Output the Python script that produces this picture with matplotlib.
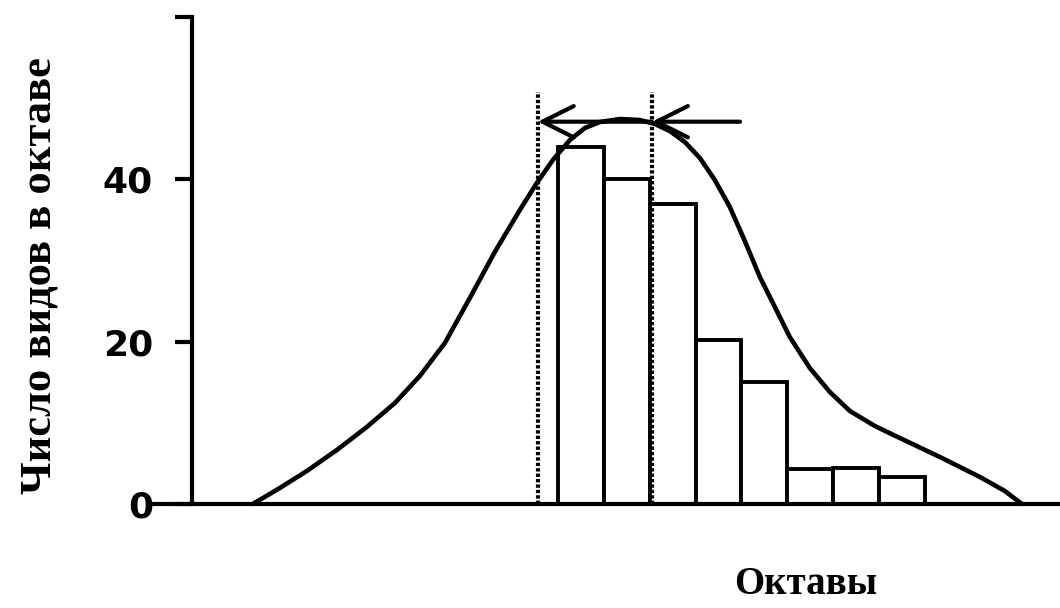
import matplotlib
matplotlib.use("Agg")
import matplotlib.pyplot as plt

# ---- data ----
octaves = [1, 2, 3, 4, 5, 6, 7, 8]
species_counts = [44, 40, 37, 20.2, 15, 4.3, 4.4, 3.3]

curve_x = [-6.145, -5.557, -4.968, -4.315, -3.661, -3.051, -2.507, -1.962,
           -1.417, -0.873, -0.328, 0.042, 0.391, 0.761, 1.088, 1.415, 1.851,
           2.286, 2.613, 2.940, 3.267, 3.594, 3.920, 4.247, 4.574, 4.901,
           5.228, 5.554, 5.990, 6.426, 6.862, 7.406, 7.951, 8.823, 9.694,
           10.239, 10.609]
curve_y = [0, 1.97, 4.07, 6.65, 9.49, 12.44, 15.77, 19.83,
           25.38, 31.05, 36.22, 39.55, 42.38, 44.84, 46.32, 47.06, 47.43,
           47.31, 46.82, 45.95, 44.60, 42.63, 39.92, 36.59, 32.40, 27.97,
           24.27, 20.57, 16.75, 13.80, 11.46, 9.61, 8.13, 5.79, 3.33,
           1.60, 0]

marker_x = [0.064, 2.55]          # dotted vertical lines
marker_top = 50.8
arrow_y = 47.1
arrow_tails = [2.55, 4.47]

yticks = [0, 20, 40, 60]
ytick_labels = ["0", "20", "40", ""]
xlabel = "Октавы"
ylabel = "Число видов в октаве"

# ---- figure ----
fig = plt.figure(figsize=(10.6, 6.08), dpi=100)
ax = fig.add_axes([192 / 1060, (608 - 504) / 608, (1060 - 192) / 1060, (504 - 17) / 608])
ax.set_xlim(-7.47, 11.44)
ax.set_ylim(0, 60)

ax.bar(octaves, species_counts, width=1.0, facecolor="white", edgecolor="black",
       linewidth=2.8, zorder=2)
ax.plot(curve_x, curve_y, color="black", linewidth=3.3, solid_capstyle="round",
        solid_joinstyle="round", zorder=3, clip_on=False)

for mx in marker_x:
    ax.plot([mx, mx], [0, marker_top], color="black", linewidth=3.0,
            linestyle=(0, (0.8, 0.5)), zorder=4)

for tip, tail in zip(marker_x, arrow_tails):
    ax.annotate("", xy=(tip, arrow_y), xytext=(tail, arrow_y),
                arrowprops=dict(arrowstyle="->,head_length=0.9,head_width=0.45",
                                lw=3.0, color="black", mutation_scale=25,
                                shrinkA=0, shrinkB=0),
                zorder=5)

for s in ["top", "right"]:
    ax.spines[s].set_visible(False)
ax.spines["left"].set_linewidth(3.0)
ax.spines["bottom"].set_linewidth(3.0)
ax.spines["bottom"].set_bounds(-8.3, 11.44)
ax.spines["bottom"].set_zorder(6)
ax.set_xticks([])
ax.set_yticks(yticks)
ax.set_yticklabels(ytick_labels)
ax.tick_params(axis="y", direction="out", length=12, width=3.0, pad=16,
               labelsize=26)
for lab in ax.get_yticklabels():
    lab.set_fontfamily("DejaVu Sans")
    lab.set_fontweight("bold")

fig.text(40 / 1060, 1 - 276 / 608, ylabel, rotation=90, ha="center", va="center",
         fontsize=32, fontweight="bold", family="Liberation Serif")
fig.text(806 / 1060, 1 - 585 / 608, xlabel, ha="center", va="center",
         fontsize=28, fontweight="bold", family="Liberation Serif")

fig.savefig("out.png", dpi=100, facecolor="white")
